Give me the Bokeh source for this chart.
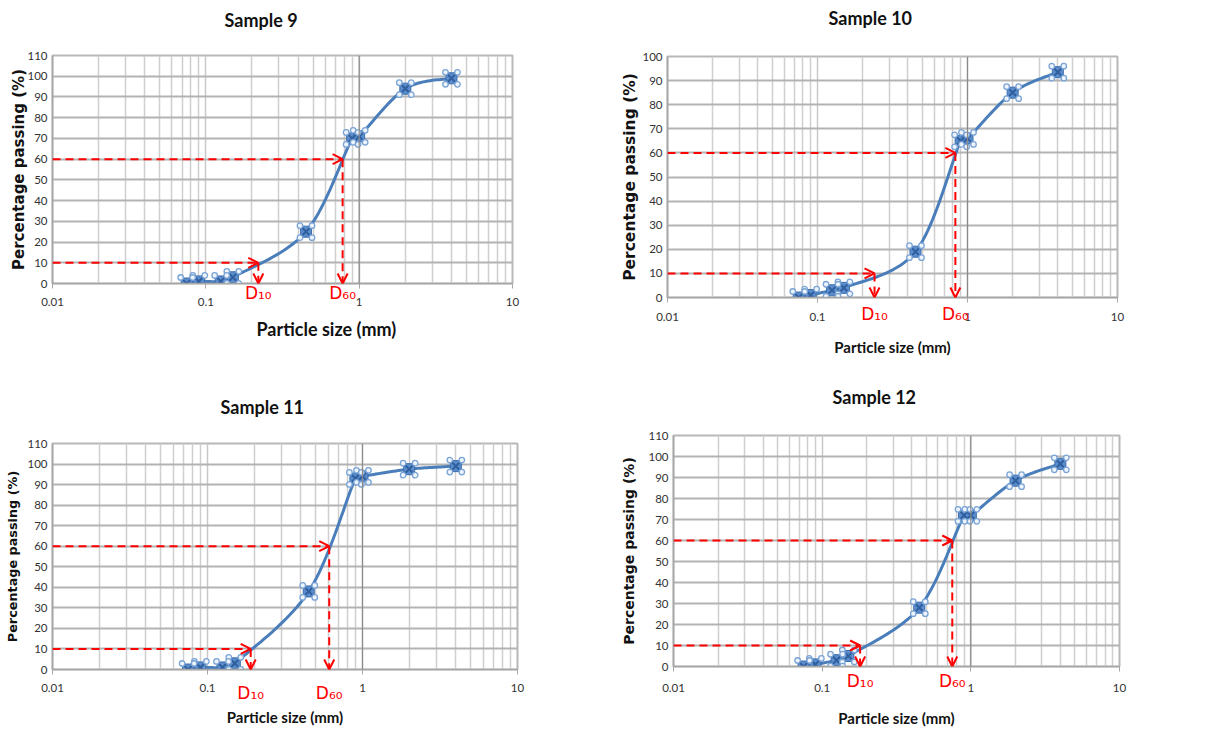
import numpy as np
from bokeh.plotting import figure
from bokeh.layouts import column, row
from bokeh.models import (FixedTicker, Arrow, OpenHead, Span, Range1d, LogAxis,
                          LinearAxis, Title)
from bokeh.embed import file_html
from bokeh.resources import INLINE

# ---------------- data ----------------
sieve_sizes = [0.075, 0.09, 0.125, 0.15, 0.45, 0.9, 1.0, 2.0, 4.0]
sample9 = [0, 1, 1, 3, 25, 70, 71, 94, 99]
sample10 = [0, 1, 3, 4, 19, 65, 66, 85, 93.5]
sample11 = [0, 1, 1, 3, 38, 93, 94, 97.5, 99]
sample12 = [0, 1, 3, 5, 28, 72, 72, 88.5, 96.5]
titles = ["Sample 9", "Sample 10", "Sample 11", "Sample 12"]
d10_values = [0.22, 0.24, 0.19, 0.18]
d60_values = [0.78, 0.83, 0.61, 0.75]
d_labels = ["D₁₀", "D₆₀"]
y_max_values = [110, 100, 110, 110]
x_ticks = [0.01, 0.1, 1, 10]
x_tick_labels = ["0.01", "0.1", "1", "10"]
x_label = "Particle size (mm)"
y_label = "Percentage passing (%)"

series = [sample9, sample10, sample11, sample12]

# ---------------- layout / style ----------------
layouts = [
    dict(w=610, h=380, left=52, right=98, top=55, bottom=97, title_off=172, title_st=12,
         spacer=14.3, ylab_size=15, ylab_st=-4, tick_st=9, d_st=-32, xlab_st=12,
         xlab_size=18, xlab_title_off=204, xlab_title_st=14),
    dict(w=603, h=380, left=57, right=96, top=56, bottom=83, title_off=161, title_st=8,
         spacer=18, ylab_size=15.5, ylab_st=0, tick_st=10, d_st=-26, xlab_st=11,
         xlab_size=15, xlab_title_off=None, xlab_title_st=0),
    dict(w=610, h=351, left=52, right=93, top=63, bottom=62, title_off=168, title_st=10,
         spacer=16, ylab_size=12.8, ylab_st=4, tick_st=9, d_st=-18, xlab_st=2,
         xlab_size=15, xlab_title_off=None, xlab_title_st=0),
    dict(w=603, h=351, left=63, right=94, top=55, bottom=65, title_off=159, title_st=6,
         spacer=18.8, ylab_size=14, ylab_st=8, tick_st=12, d_st=-30, xlab_st=15,
         xlab_size=15, xlab_title_off=None, xlab_title_st=0),
]

BLUE = "#4a7ebb"
RED = "#ff0000"
FONT = "Lato"


def smooth_curve(xs, ys, fw, fh, ymax, n=24):
    """Excel-like smoothed line, computed in screen-proportional space."""
    u = (np.log10(np.array(xs, dtype=float)) + 2) / 3 * fw
    v = np.array(ys, dtype=float) / ymax * fh
    pts = np.column_stack([u, v])
    out = []
    for i in range(len(pts) - 1):
        p0 = pts[i - 1] if i > 0 else pts[i]
        p1 = pts[i]
        p2 = pts[i + 1]
        p3 = pts[i + 2] if i + 2 < len(pts) else pts[i + 1]
        c1 = p1 + (p2 - p0) / 6
        c2 = p2 - (p3 - p1) / 6
        t = np.linspace(0, 1, n)[:, None]
        seg = ((1 - t) ** 3) * p1 + 3 * ((1 - t) ** 2) * t * c1 + 3 * (1 - t) * t ** 2 * c2 + t ** 3 * p2
        out.append(seg if i == 0 else seg[1:])
    arr = np.vstack(out)
    cx = 10 ** (arr[:, 0] / fw * 3 - 2)
    cy = arr[:, 1] / fh * ymax
    return cx, cy


def make_panel(k):
    L = layouts[k]
    ymax = y_max_values[k]
    ys = series[k]
    fw = L["w"] - L["left"] - L["right"]
    fh = L["h"] - L["top"] - L["bottom"]

    p = figure(width=L["w"], height=L["h"], x_axis_type="log",
               x_range=Range1d(0.01, 10), y_range=Range1d(0, ymax),
               x_axis_location=None, y_axis_location=None,
               output_backend="svg", toolbar_location=None,
               min_border_left=L["left"], min_border_right=L["right"],
               min_border_top=L["top"], min_border_bottom=L["bottom"])
    if "frame_align" in p.properties():
        p.frame_align = False
    p.background_fill_color = "white"
    p.border_fill_color = "white"
    p.outline_line_color = "#b8b8b8"
    p.outline_line_width = 2

    # title (outermost above), with a blank spacer title between it and the frame
    p.title = Title(text=titles[k], align="left", offset=L["title_off"],
                    standoff=L["title_st"], text_font=FONT, text_font_style="bold",
                    text_font_size="18px", text_color="#111111")
    p.add_layout(Title(text=" ", standoff=0, text_font=FONT,
                       text_font_size=f'{L["spacer"]}px'), "above")

    minor = [m * 10.0 ** e for e in (-2, -1, 0) for m in range(2, 10)]
    main_ticker = FixedTicker(ticks=x_ticks, minor_ticks=minor)

    # main x axis (tick labels)
    xa = LogAxis(ticker=main_ticker,
                 major_label_overrides={t: s for t, s in zip(x_ticks, x_tick_labels)})
    xa.axis_line_color = "#a6a6a6"
    xa.axis_line_width = 1.5
    xa.major_tick_line_color = "#a6a6a6"
    xa.major_tick_out = 5
    xa.major_tick_in = 0
    xa.minor_tick_line_color = None
    xa.major_label_standoff = L["tick_st"]
    xa.major_label_text_font = FONT
    xa.major_label_text_font_size = "11.5px"
    xa.major_label_text_color = "#333333"
    p.add_layout(xa, "below")

    # D10 / D60 labels axis (carries the x-axis title too)
    dvals = [d10_values[k], d60_values[k]]
    da = LogAxis(ticker=FixedTicker(ticks=dvals, minor_ticks=[]),
                 major_label_overrides={v: s for v, s in zip(dvals, d_labels)})
    da.axis_line_color = None
    da.major_tick_line_color = None
    da.minor_tick_line_color = None
    da.major_label_standoff = L["d_st"]
    da.major_label_text_font = "DejaVu Sans"
    da.major_label_text_font_size = "17px"
    da.major_label_text_color = RED
    p.add_layout(da, "below")

    if L["xlab_title_off"] is None:
        da.axis_label = x_label
        da.axis_label_standoff = L["xlab_st"]
        da.axis_label_text_font = FONT
        da.axis_label_text_font_style = "bold"
        da.axis_label_text_font_size = f'{L["xlab_size"]}px'
        da.axis_label_text_color = "#111111"
    else:
        p.add_layout(Title(text=x_label, align="left", offset=L["xlab_title_off"],
                           standoff=L["xlab_title_st"], text_font=FONT,
                           text_font_style="bold",
                           text_font_size=f'{L["xlab_size"]}px',
                           text_color="#111111"), "below")

    # y axis
    ya = LinearAxis(ticker=FixedTicker(ticks=list(range(0, ymax + 1, 10))))
    ya.axis_line_color = "#a6a6a6"
    ya.axis_line_width = 1.5
    ya.major_tick_out = 0
    ya.major_tick_in = 0
    ya.minor_tick_line_color = None
    ya.major_label_standoff = 5
    ya.major_label_text_font = FONT
    ya.major_label_text_font_size = "11.5px"
    ya.major_label_text_color = "#333333"
    ya.axis_label = y_label
    ya.axis_label_standoff = L["ylab_st"]
    ya.axis_label_text_font = "DejaVu Sans"
    ya.axis_label_text_font_style = "bold"
    ya.axis_label_text_font_size = f'{L["ylab_size"]}px'
    ya.axis_label_text_color = "#111111"
    p.add_layout(ya, "left")

    p.ygrid.ticker = ya.ticker
    p.xgrid.ticker = main_ticker
    p.ygrid.grid_line_color = "#b3b3b3"
    p.ygrid.grid_line_width = 2
    p.xgrid.grid_line_color = "#c8c8c8"
    p.xgrid.grid_line_width = 1.5
    p.xgrid.minor_grid_line_color = "#cfcfcf"
    p.xgrid.minor_grid_line_width = 1.5
    p.add_layout(Span(location=1, dimension="height", line_color="#8a8a8a", line_width=1.2))

    # red dashed D10 / D60 construction
    for dv, lvl in ((d10_values[k], 10), (d60_values[k], 60)):
        p.add_layout(Arrow(x_start=0.01, y_start=lvl, x_end=dv, y_end=lvl,
                           line_color=RED, line_width=2, line_dash="8 5",
                           end=OpenHead(size=10, line_color=RED, line_width=2)))
        p.add_layout(Arrow(x_start=dv, y_start=lvl, x_end=dv, y_end=0,
                           line_color=RED, line_width=2, line_dash="8 5",
                           end=OpenHead(size=10, line_color=RED, line_width=2)))

    # smoothed curve
    cx, cy = smooth_curve(sieve_sizes, ys, fw, fh, ymax)
    p.line(cx, cy, line_color=BLUE, line_width=3)

    # markers
    xs = np.array(sieve_sizes)
    yv = np.array(ys, dtype=float)
    p.scatter(xs, yv, marker="square", size=11, fill_color="#5b8ccc",
              line_color="#3c6eae", line_width=1)
    p.scatter(xs, yv, marker="x", size=11, line_color="#2f5f9e", line_width=2)
    ddec = 6.0 / (fw / 3)
    dy = 6.0 * ymax / fh
    for sx in (-1, 1):
        for sy in (-1, 1):
            p.scatter(xs * 10 ** (sx * ddec), yv + sy * dy, marker="circle", size=5.5,
                      fill_color="#eef4fb", line_color="#7aa3d6", line_width=1.3)
    return p


panels = [make_panel(k) for k in range(4)]
layout = column(row(panels[0], panels[1]), row(panels[2], panels[3]))

open("out.html", "w").write(file_html(layout, INLINE))
